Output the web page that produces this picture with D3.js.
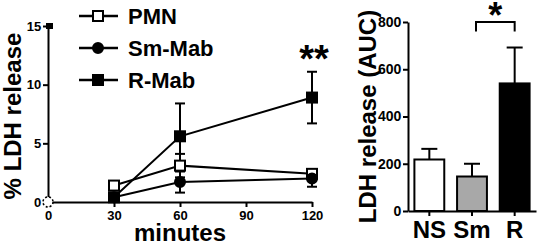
<!DOCTYPE html>
<html>
<head>
<meta charset="utf-8">
<script src="https://cdn.jsdelivr.net/npm/d3@7"></script>
<style>
  body { margin: 0; background: #fff; }
  svg { display: block; font-family: "Liberation Sans", Arial, sans-serif; }
  .axis path, .axis line { stroke: #000; stroke-width: 2px; }
  .axis text { font-size: 13px; font-weight: bold; fill: #000; }
</style>
</head>
<body>
<div id="chart"></div>
<script>
// time course (% LDH release)
const minutes = [30, 60, 120];
const pmnMean = [1.4, 3.1, 2.4];
const pmnErr = [0, 1.0, 0.4];
const smMean = [0.4, 1.7, 2.0];
const smErr = [0, 0.9, 0.7];
const rMean = [0.4, 5.6, 8.9];
const rErr = [0, 2.8, 2.2];
const xTicks = [0, 30, 60, 90, 120];
const yTicks = [0, 5, 10, 15];

// area under curve
const aucGroups = ['NS', 'Sm', 'R'];
const aucMean = [218, 146, 540];
const aucErr = [45, 54, 152];
const aucTicks = [0, 200, 400, 600, 800];

const width = 538, height = 245;
const svg = d3.select('#chart').append('svg')
  .attr('width', width)
  .attr('height', height);

// ---------- left: line chart ----------
const x = d3.scaleLinear().domain([0, 120]).range([48, 312]);
const y = d3.scaleLinear().domain([0, 15]).range([202, 26]);

svg.append('g')
  .attr('class', 'axis')
  .attr('transform', `translate(0,${y(0)})`)
  .call(d3.axisBottom(x).tickValues(xTicks).tickSize(5).tickSizeOuter(0))
  .call(g => g.selectAll('text').attr('dy', '0.75em'));

svg.append('g')
  .attr('class', 'axis')
  .attr('transform', `translate(${x(0)},0)`)
  .call(d3.axisLeft(y).tickValues(yTicks).tickSize(5).tickSizeOuter(0))
  .call(g => g.selectAll('text').attr('dx', '0.1em'));

const series = [
  { name: 'PMN', mean: pmnMean, err: pmnErr, shape: 'square', fill: '#fff' },
  { name: 'Sm-Mab', mean: smMean, err: smErr, shape: 'circle', fill: '#000' },
  { name: 'R-Mab', mean: rMean, err: rErr, shape: 'square', fill: '#000' }
];

const line = d3.line().x(d => x(d.t)).y(d => y(d.v));

function drawMarker(g, s, cx, cy) {
  if (s.shape === 'circle') {
    g.append('circle').attr('cx', cx).attr('cy', cy).attr('r', 5)
      .attr('fill', s.fill).attr('stroke', '#000').attr('stroke-width', 2);
  } else {
    g.append('rect').attr('x', cx - 5).attr('y', cy - 5).attr('width', 10).attr('height', 10)
      .attr('fill', s.fill).attr('stroke', '#000').attr('stroke-width', 2);
  }
}

// markers at time 0 sitting on the axes
svg.append('circle')
  .attr('cx', x(0)).attr('cy', y(0)).attr('r', 5)
  .attr('fill', '#fff').attr('stroke', '#000').attr('stroke-width', 1.5)
  .attr('stroke-dasharray', '2,2');
svg.append('rect')
  .attr('x', x(0) - 2).attr('y', y(15) - 3).attr('width', 7).attr('height', 6)
  .attr('fill', '#000');

series.forEach(s => {
  const pts = minutes.map((t, i) => ({ t, v: s.mean[i], e: s.err[i] }));
  const g = svg.append('g');
  g.append('path').datum(pts)
    .attr('d', line)
    .attr('fill', 'none').attr('stroke', '#000').attr('stroke-width', 2);
  pts.filter(d => d.e > 0).forEach(d => {
    g.append('line').attr('x1', x(d.t)).attr('x2', x(d.t))
      .attr('y1', y(d.v - d.e)).attr('y2', y(d.v + d.e))
      .attr('stroke', '#000').attr('stroke-width', 2);
    [d.v - d.e, d.v + d.e].forEach(v => {
      g.append('line').attr('x1', x(d.t) - 5).attr('x2', x(d.t) + 5)
        .attr('y1', y(v)).attr('y2', y(v))
        .attr('stroke', '#000').attr('stroke-width', 2);
    });
  });
});
// markers on top (last series drawn last)
series.forEach(s => {
  const g = svg.append('g');
  minutes.forEach((t, i) => drawMarker(g, s, x(t), y(s.mean[i])));
});

// legend
series.forEach((s, i) => {
  const ly = 16 + i * 32;
  const g = svg.append('g');
  g.append('line').attr('x1', 79).attr('x2', 118).attr('y1', ly).attr('y2', ly)
    .attr('stroke', '#000').attr('stroke-width', 2.5);
  drawMarker(g, s, 98, ly);
  g.append('text').attr('x', 128).attr('y', ly + 8)
    .attr('font-size', 22).attr('font-weight', 'bold').text(s.name);
});

svg.append('text')
  .attr('x', x(120) + 2).attr('y', 72)
  .attr('text-anchor', 'middle')
  .attr('font-size', 38).attr('font-weight', 'bold')
  .text('**');

svg.append('text')
  .attr('x', 180).attr('y', 241)
  .attr('text-anchor', 'middle')
  .attr('font-size', 24).attr('font-weight', 'bold')
  .text('minutes');

svg.append('text')
  .attr('transform', `translate(21,${(y(0) + y(15)) / 2 + 2}) rotate(-90)`)
  .attr('text-anchor', 'middle')
  .attr('font-size', 24).attr('font-weight', 'bold')
  .text('% LDH release');

// ---------- right: bar chart ----------
const xb = d3.scaleBand().domain(aucGroups).range([408, 536]).paddingInner(0.3).paddingOuter(0.15);
const yb = d3.scaleLinear().domain([0, 800]).range([211, 22]);
const fills = ['#fff', '#a8a8a8', '#000'];

svg.append('g')
  .attr('class', 'axis')
  .attr('transform', `translate(0,${yb(0)})`)
  .call(d3.axisBottom(xb).tickSize(5).tickSizeOuter(0))
  .call(g => g.selectAll('text').style('font-size', '24px').attr('dy', '0.8em'));

svg.append('g')
  .attr('class', 'axis')
  .attr('transform', `translate(${xb.range()[0]},0)`)
  .call(d3.axisLeft(yb).tickValues(aucTicks).tickSize(5).tickSizeOuter(0))
  .call(g => g.selectAll('text').style('font-size', '14px').attr('dx', '0.1em'));

const bars = svg.append('g').selectAll('g')
  .data(aucGroups.map((k, i) => ({ k, v: aucMean[i], e: aucErr[i], f: fills[i] })))
  .enter().append('g');

bars.append('line')
  .attr('x1', d => xb(d.k) + xb.bandwidth() / 2)
  .attr('x2', d => xb(d.k) + xb.bandwidth() / 2)
  .attr('y1', d => yb(d.v)).attr('y2', d => yb(d.v + d.e))
  .attr('stroke', '#000').attr('stroke-width', 2);
bars.append('line')
  .attr('x1', d => xb(d.k) + xb.bandwidth() / 2 - 8)
  .attr('x2', d => xb(d.k) + xb.bandwidth() / 2 + 8)
  .attr('y1', d => yb(d.v + d.e)).attr('y2', d => yb(d.v + d.e))
  .attr('stroke', '#000').attr('stroke-width', 2);
bars.append('rect')
  .attr('x', d => xb(d.k)).attr('width', xb.bandwidth())
  .attr('y', d => yb(d.v)).attr('height', d => yb(0) - yb(d.v))
  .attr('fill', d => d.f).attr('stroke', '#000').attr('stroke-width', 2);

// significance bracket Sm vs R
const bx1 = xb('Sm') + xb.bandwidth() / 2 + 4;
const bx2 = xb('R') + xb.bandwidth() / 2;
svg.append('path')
  .attr('d', `M${bx1},${yb(760)}V${yb(800)}H${bx2}V${yb(760)}`)
  .attr('fill', 'none').attr('stroke', '#000').attr('stroke-width', 2);
svg.append('text')
  .attr('x', (bx1 + bx2) / 2).attr('y', 28)
  .attr('text-anchor', 'middle')
  .attr('font-size', 36).attr('font-weight', 'bold')
  .text('*');

svg.append('text')
  .attr('transform', `translate(376,${(yb(0) + yb(800)) / 2}) rotate(-90)`)
  .attr('text-anchor', 'middle')
  .attr('font-size', 24).attr('font-weight', 'bold')
  .text('LDH release (AUC)');
</script>
</body>
</html>
